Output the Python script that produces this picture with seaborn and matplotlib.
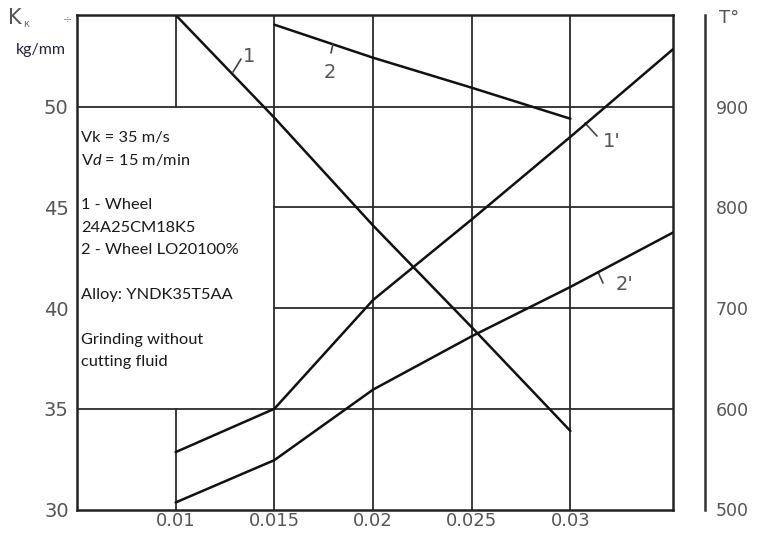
import matplotlib
matplotlib.use('Agg')
import matplotlib.pyplot as plt
import seaborn as sns
import pandas as pd
from matplotlib.patches import Rectangle

# ---------------- data ----------------
feed_k1 = [0.01, 0.015, 0.02, 0.025, 0.03]
k_wheel1 = [54.55, 49.45, 44.1, 39.05, 33.9]          # curve 1 (left axis, kg/mm)

feed_k2 = [0.015, 0.02, 0.025, 0.03]
k_wheel2 = [54.07, 52.43, 50.94, 49.4]                # curve 2 (left axis)

feed_t = [0.01, 0.015, 0.02, 0.025, 0.03, 0.0352]
t_wheel1 = [557, 600, 708, 788, 870, 957]             # curve 1' (right axis, T deg)
t_wheel2 = [507, 549, 619, 672, 721, 775]             # curve 2' (right axis)

x_ticks = [0.01, 0.015, 0.02, 0.025, 0.03]
x_tick_labels = ["0.01", "0.015", "0.02", "0.025", "0.03"]
k_ticks = [30, 35, 40, 45, 50]
t_ticks = [500, 600, 700, 800, 900]

note_lines = ["Vk = 35 m/s", r"V$\mathit{d}$ = 15 m/min", "", "1 - Wheel", "24A25CM18K5",
              "2 - Wheel LO20100%", "", "Alloy: YNDK35T5AA", "", "Grinding without",
              "cutting fluid"]

# ---------------- style ----------------
sns.set_style('white')
plt.rcParams['font.family'] = ['DejaVu Sans']
plt.rcParams['mathtext.fontset'] = 'custom'
plt.rcParams['mathtext.rm'] = 'Lato'
plt.rcParams['mathtext.it'] = 'Lato:italic'

W, H = 758, 533
fig = plt.figure(figsize=(W / 100, H / 100), dpi=100)
L, R, T, B = 77, 673, 15, 509.5
ax = fig.add_axes([L / W, 1 - B / H, (R - L) / W, (B - T) / H])

XMIN, XMAX = 0.005, 0.0352
KMIN, KMAX = 30, 54.55
ax.set_xlim(XMIN, XMAX)
ax.set_ylim(KMIN, KMAX)

def px(xp, yp):
    """pixel position in the picture -> data coordinates of the left axis"""
    return (XMIN + (xp - L) / (R - L) * (XMAX - XMIN),
            KMIN + (B - yp) / (B - T) * (KMAX - KMIN))

grid_c = '#2b2b2b'
for xv in x_ticks:
    ax.axvline(xv, color=grid_c, lw=1.3, zorder=0.5)
for yv in k_ticks[1:]:
    ax.axhline(yv, color=grid_c, lw=1.3, zorder=0.5)

# white note box hiding the grid
ax.add_patch(Rectangle((XMIN, 35.06), 0.015 - XMIN - 0.00006, 50 - 35.12,
                       facecolor='white', edgecolor='none', zorder=1))

line_kw = dict(color='#111111', lw=1.8, zorder=3, legend=False)
sns.lineplot(x=feed_k1, y=k_wheel1, ax=ax, **line_kw)
sns.lineplot(x=feed_k2, y=k_wheel2, ax=ax, **line_kw)

for s in ax.spines.values():
    s.set_color('#222222')
    s.set_linewidth(1.8)
    s.set_zorder(4)

ax.set_xticks(x_ticks)
ax.set_xticklabels(x_tick_labels)
ax.set_yticks(k_ticks)
ax.set_yticklabels([str(v) for v in k_ticks])
ax.tick_params(axis='both', length=0, labelcolor='#555555')
ax.tick_params(axis='x', pad=1.5, labelsize=13)
ax.tick_params(axis='y', pad=6, labelsize=14)
ax.set_xlabel('')
ax.set_ylabel('')

# right axis (temperature)
ax2 = ax.twinx()
TMIN = 500
TMAX = 500 + (KMAX - 30) * 20
ax2.set_ylim(TMIN, TMAX)
ax2.set_xlim(XMIN, XMAX)
sns.lineplot(x=feed_t, y=t_wheel1, ax=ax2, **line_kw)
sns.lineplot(x=feed_t, y=t_wheel2, ax=ax2, **line_kw)
for name in ['top', 'bottom', 'left']:
    ax2.spines[name].set_visible(False)
ax2.spines['right'].set_position(('outward', 32 * 72 / 100))
ax2.spines['right'].set_color('#333333')
ax2.spines['right'].set_linewidth(1.8)
ax2.set_yticks(t_ticks)
ax2.set_yticklabels([str(v) for v in t_ticks])
ax2.tick_params(axis='y', length=0, pad=8, labelsize=12.5, labelcolor='#555555')
ax2.set_ylabel('')
ax2.grid(False)

# note text
for i, line in enumerate(note_lines):
    if not line:
        continue
    xx, yy = px(81, 138 + i * 22.4)
    ax.text(xx, yy, line, fontsize=11.8, family='Lato', color='#1a1a1a',
            ha='left', va='center', zorder=5)

# curve labels with leader ticks
lab_kw = dict(fontsize=14, color='#555555', ha='center', va='center', zorder=5)
lead_kw = dict(arrowstyle='-', color='#444444', lw=1.2, shrinkA=0, shrinkB=0)
for (p0, p1, tp, txt) in [((233, 72), (241, 59), (249, 56), "1"),
                          ((333, 44), (331, 53), (330, 72), "2"),
                          ((585, 123), (597, 136), (612, 141), "1'"),
                          ((598, 272), (603, 283), (625, 284), "2'")]:
    ax.annotate('', xy=px(*p0), xytext=px(*p1), arrowprops=lead_kw, zorder=5,
                annotation_clip=False)
    ax.text(*px(*tp), txt, **lab_kw)

# axis titles
fig.text(8 / W, 1 - 18 / H, "K", fontsize=15, color='#555555', ha='left', va='center')
fig.text(23 / W, 1 - 24 / H, "к", fontsize=7, color='#666666', ha='left', va='center')
fig.text(68 / W, 1 - 19 / H, "÷", fontsize=8, color='#888888', ha='center', va='center')
fig.text(41 / W, 1 - 50 / H, "kg/mm", fontsize=11.5, family='Lato', color='#1c2450',
         ha='center', va='center')
fig.text(729 / W, 1 - 18 / H, "T°", fontsize=13, color='#555555',
         ha='center', va='center')

fig.savefig('out.png', dpi=100)
